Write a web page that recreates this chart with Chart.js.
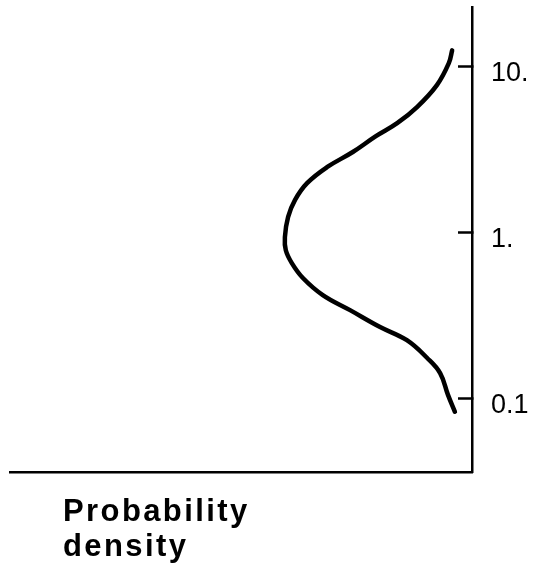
<!DOCTYPE html>
<html>
<head>
<meta charset="utf-8">
<script src="https://cdn.jsdelivr.net/npm/chart.js@4/dist/chart.umd.min.js"></script>
<style>
  html, body { margin: 0; padding: 0; background: #fff; }
  #wrap { width: 534px; height: 570px; }
</style>
</head>
<body>
<div id="wrap"><canvas id="densityChart"></canvas></div>
<script>
// values: density (horizontal, grows to the left) vs. value (log, vertical)
const curveValue = [12.5, 10.5, 7.72, 5.69, 4.55, 3.8, 3.05, 2.47, 1.98, 1.57, 1.24, 0.937,
  0.78, 0.653, 0.531, 0.419, 0.34, 0.269, 0.224, 0.175, 0.142, 0.105, 0.083];
const curveDensity = [0.043, 0.05, 0.076, 0.119, 0.162, 0.208, 0.258, 0.314, 0.357, 0.383, 0.398, 0.405,
  0.403, 0.39, 0.366, 0.323, 0.264, 0.199, 0.141, 0.097, 0.069, 0.052, 0.037];
const yTicks = [0.1, 1, 10];
const yTickLabels = ["0.1", "1.", "10."];
const axisLabel = ["Probability", "density"];

const points = curveValue.map((v, i) => ({ x: curveDensity[i], y: v }));

// writes the axis caption under the bottom line
const captionPlugin = {
    id: "caption",
    afterDraw(chart) {
        const ctx = chart.ctx;
        ctx.save();
        ctx.fillStyle = "#000";
        ctx.font = "bold 31px 'Liberation Sans', Arial, sans-serif";
        ctx.letterSpacing = "2.4px";
        ctx.textAlign = "left";
        ctx.textBaseline = "alphabetic";
        axisLabel.forEach((line, i) => {
            ctx.fillText(line, 63, 521 + i * 35);
        });
        ctx.restore();
    },
};

new Chart(document.getElementById("densityChart"), {
    type: "scatter",
    data: {
        datasets: [
            {
                data: points,
                showLine: true,
                borderColor: "#000",
                borderWidth: 4.5,
                borderCapStyle: "round",
                borderJoinStyle: "round",
                tension: 0.4,
                pointRadius: 0,
                fill: false,
            },
        ],
    },
    options: {
        responsive: true,
        maintainAspectRatio: false,
        animation: false,
        layout: { padding: { left: 10, top: 7, right: 0, bottom: 98 } },
        plugins: {
            legend: { display: false },
            tooltip: { enabled: false },
        },
        scales: {
            x: {
                type: "linear",
                reverse: true,
                min: 0,
                max: 1,
                grid: { display: false, drawTicks: false },
                ticks: { display: false },
                border: { display: true, color: "#000", width: 2.5 },
                afterFit(scale) {
                    scale.height = 0;
                    scale.paddingLeft = 0;
                    scale.paddingRight = 0;
                },
            },
            y: {
                type: "logarithmic",
                position: "right",
                min: 0.036,
                max: 22.8,
                afterBuildTicks(scale) {
                    scale.ticks = yTicks.map((v) => ({ value: v }));
                },
                afterFit(scale) {
                    scale.width = 62;
                    scale.paddingTop = 0;
                    scale.paddingBottom = 0;
                },
                grid: {
                    display: true,
                    drawOnChartArea: false,
                    drawTicks: true,
                    tickLength: -14,
                    tickWidth: 2.5,
                    tickColor: "#000",
                },
                border: { display: true, color: "#000", width: 2.5 },
                ticks: {
                    padding: 33,
                    labelOffset: 7,
                    color: "#000",
                    font: { family: "'Liberation Sans', Arial, sans-serif", size: 27 },
                    callback(value) {
                        const i = yTicks.indexOf(value);
                        return i >= 0 ? yTickLabels[i] : "";
                    },
                },
            },
        },
    },
    plugins: [captionPlugin],
});
</script>
</body>
</html>
